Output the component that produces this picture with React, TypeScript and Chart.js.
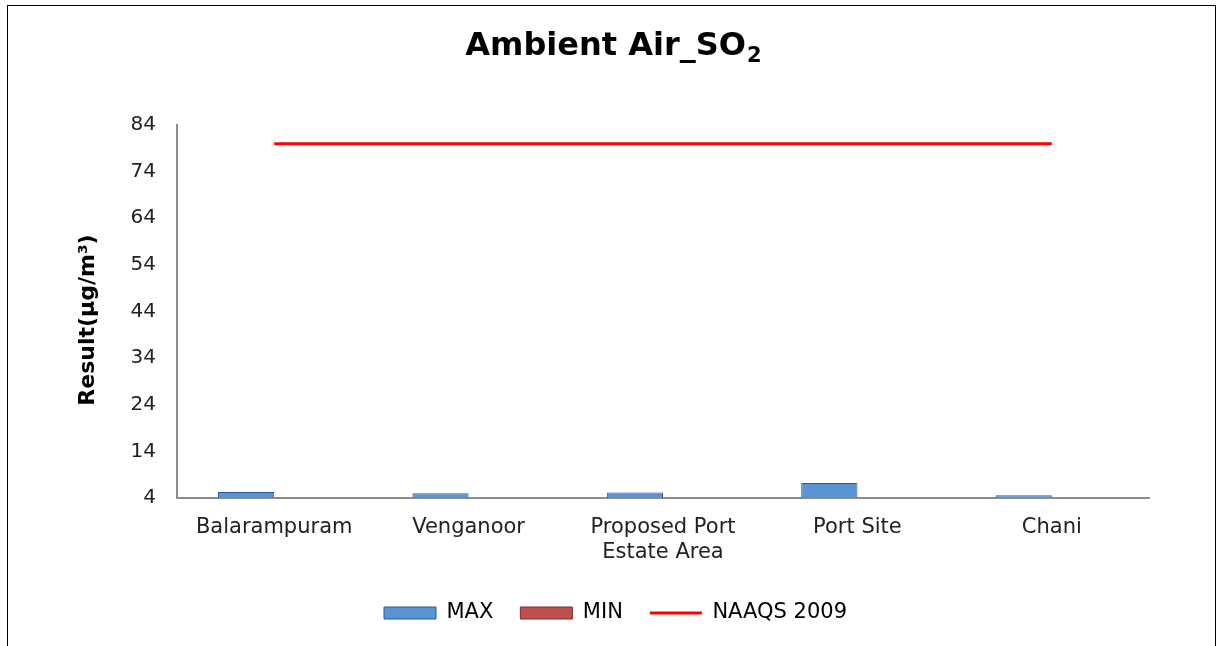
import React, { useEffect, useRef } from "react";
import { Chart, registerables } from "chart.js";

Chart.register(...registerables);

const categories: (string | string[])[] = [
  "Balarampuram",
  "Venganoor",
  ["Proposed Port", "Estate Area"],
  "Port Site",
  "Chani",
];
const maxValues = [5.3, 5.0, 5.2, 7.2, 4.6];
const minValues = [4, 4, 4, 4, 4];
const naaqsValues = [80, 80, 80, 80, 80];
const yMin = 4;
const yMax = 84;
const yStep = 10;
const titleMain = "Ambient Air_SO";
const titleSub = "2";
const yTitle = "Result(µg/m³)";

const FONT = "'DejaVu Sans', Verdana, sans-serif";

function barGradient(ctx: any, light: string, mid: string, dark: string) {
  const chart = ctx.chart;
  const area = chart.chartArea;
  if (!area) return mid;
  const el = ctx.element;
  const c = chart.ctx;
  if (el && typeof el.y === "number" && typeof el.base === "number") {
    const top = Math.min(el.y, el.base);
    const bottom = Math.max(el.y, el.base);
    if (bottom - top > 1) {
      const g = c.createLinearGradient(0, top, 0, bottom);
      g.addColorStop(0, mid);
      g.addColorStop(0.2, light);
      g.addColorStop(0.45, mid);
      g.addColorStop(1, dark);
      return g;
    }
  }
  return mid;
}

const textPlugin = {
  id: "customTexts",
  afterDraw(chart: any) {
    const c = chart.ctx;
    c.save();
    const mainFont = `bold 32px ${FONT}`;
    const subFont = `bold 21px ${FONT}`;
    c.font = mainFont;
    const w1 = c.measureText(titleMain).width;
    c.font = subFont;
    const w2 = c.measureText(titleSub).width;
    const cx = 613;
    const baseline = 55;
    const x0 = cx - (w1 + w2) / 2;
    c.fillStyle = "#000";
    c.textAlign = "left";
    c.textBaseline = "alphabetic";
    c.font = mainFont;
    c.fillText(titleMain, x0, baseline);
    c.font = subFont;
    c.fillText(titleSub, x0 + w1 + 1, baseline + 7);

    // y axis title
    c.translate(88, 320);
    c.rotate(-Math.PI / 2);
    c.font = `bold 22px ${FONT}`;
    c.textAlign = "center";
    c.textBaseline = "middle";
    c.fillText(yTitle, 0, 0);
    c.restore();
  },
};

export default function App() {
  const canvasRef = useRef<HTMLCanvasElement | null>(null);

  useEffect(() => {
    if (!canvasRef.current) return;
    const chart = new Chart(canvasRef.current, {
      type: "bar",
      data: {
        labels: categories,
        datasets: [
          {
            type: "bar",
            label: "MAX",
            data: maxValues,
            backgroundColor: (ctx: any) => barGradient(ctx, "#a9cdf3", "#5a92d6", "#2f5f9e"),
            borderColor: "#2d5a93",
            borderWidth: 1,
            categoryPercentage: 0.578,
            barPercentage: 1,
            order: 2,
          } as any,
          {
            type: "bar",
            label: "MIN",
            data: minValues,
            backgroundColor: (ctx: any) => barGradient(ctx, "#f0a3a1", "#c0504d", "#8c2e2b"),
            borderColor: "#7f2b28",
            borderWidth: 1,
            categoryPercentage: 0.578,
            barPercentage: 1,
            order: 2,
          } as any,
          {
            type: "line",
            label: "NAAQS 2009",
            data: naaqsValues,
            borderColor: "#ff0000",
            backgroundColor: "#ff0000",
            borderWidth: 3,
            pointRadius: 0,
            fill: false,
            order: 1,
          } as any,
        ],
      },
      plugins: [textPlugin],
      options: {
        animation: false,
        responsive: false,
        maintainAspectRatio: false,
        layout: { padding: { left: 82, right: 74, top: 125, bottom: 12.5 } },
        plugins: {
          title: { display: false },
          legend: {
            display: true,
            position: "bottom",
            labels: {
              usePointStyle: true,
              pointStyleWidth: 52,
              boxHeight: 12,
              color: "#000",
              padding: 27,
              font: { family: FONT, size: 21 },
              sort: (a: any, b: any) => a.datasetIndex - b.datasetIndex,
              generateLabels: (ch: any) => {
                const items = Chart.defaults.plugins.legend.labels.generateLabels(ch);
                return items.map((it: any) => {
                  if (it.datasetIndex === 0) {
                    return { ...it, fillStyle: "#5a92d6", strokeStyle: "#2d5a93", lineWidth: 1, pointStyle: "rect" };
                  }
                  if (it.datasetIndex === 1) {
                    return { ...it, fillStyle: "#c0504d", strokeStyle: "#7f2b28", lineWidth: 1, pointStyle: "rect" };
                  }
                  return { ...it, fillStyle: "#ff0000", strokeStyle: "#ff0000", lineWidth: 3, pointStyle: "line" };
                });
              },
            },
          },
          tooltip: { enabled: false },
        },
        scales: {
          x: {
            grid: { display: false, drawTicks: false },
            border: { display: true, color: "#8c8c8c", width: 2 },
            ticks: {
              color: "#222",
              padding: 17,
              font: { family: FONT, size: 21 },
              maxRotation: 0,
              autoSkip: false,
            },
            afterFit: (scale: any) => {
              scale.height = 77.5;
            },
          },
          y: {
            min: yMin,
            max: yMax,
            grid: { display: false, drawTicks: false },
            border: { display: true, color: "#8c8c8c", width: 2 },
            ticks: {
              stepSize: yStep,
              color: "#222",
              padding: 21,
              font: { family: FONT, size: 20 },
            },
            afterFit: (scale: any) => {
              scale.width = 95;
            },
          },
        },
      },
    });
    return () => chart.destroy();
  }, []);

  return (
    <div>
      <div
        style={{
          position: "fixed",
          left: 7,
          top: 5,
          width: 1209,
          height: 660,
          border: "1px solid #000",
          boxSizing: "border-box",
          background: "#fff",
        }}
      />
      <div style={{ position: "fixed", left: 0, top: 0, width: 1223, height: 646 }}>
        <canvas ref={canvasRef} width={1223} height={646} style={{ display: "block" }} />
      </div>
    </div>
  );
}
